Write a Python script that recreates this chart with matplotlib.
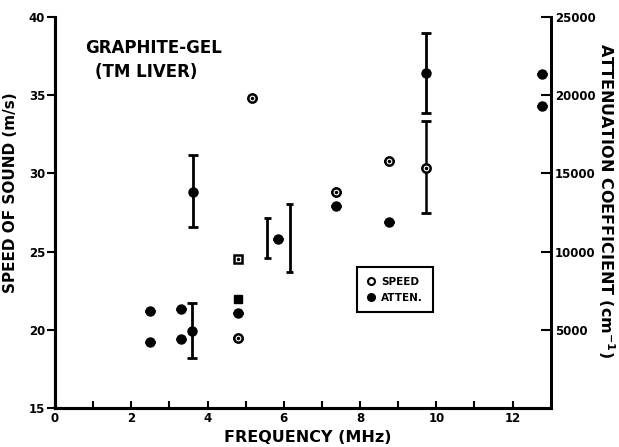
import numpy as np
import matplotlib
matplotlib.use("Agg")
import matplotlib.pyplot as plt

# speed of sound (left axis, m/s) - open markers with a centre dot
speed_freq = [4.81, 5.17, 7.37, 8.76, 9.72]
speed_val = [19.5, 34.8, 28.8, 30.8, 30.35]
speed_err_lo = [0, 0, 0, 0, 2.85]
speed_err_hi = [0, 0, 0, 0, 3.0]
speed_sq_freq = [4.81]
speed_sq_val = [24.5]

# attenuation (right axis, cm^-1) - filled markers
atten_freq = [2.49, 2.49, 3.30, 3.30, 3.59, 3.62, 4.81, 5.86, 7.37, 8.76, 9.72, 12.76, 12.76]
atten_val = [6200, 4200, 6330, 4400, 4950, 13800, 6100, 10790, 12940, 11870, 21400, 21340, 19330]
atten_err_lo = [0, 0, 0, 0, 1750, 2200, 0, 0, 0, 0, 2520, 0, 0]
atten_err_hi = [0, 0, 0, 0, 1750, 2400, 0, 0, 0, 0, 2580, 0, 0]
atten_sq_freq = [4.81]
atten_sq_val = [7000]

# error bars whose markers are lost in the original (left axis units)
bare_freq = [5.57, 6.15]
bare_lo = [24.6, 23.7]
bare_hi = [27.15, 28.05]

plt.rcParams['font.family'] = 'DejaVu Sans'
plt.rcParams['font.weight'] = 'bold'

fig = plt.figure(figsize=(6.19, 4.47), dpi=100)
ax = fig.add_axes([0.0889, 0.0872, 0.8008, 0.8748])
ax2 = ax.twinx()

ax.set_xlim(0, 13)
ax.set_ylim(15, 40)
ax2.set_ylim(0, 25000)

for a in (ax, ax2):
    a.spines['top'].set_visible(False)
    a.spines['left'].set_linewidth(2.2)
    a.spines['bottom'].set_linewidth(2.2)
    a.spines['right'].set_linewidth(2.0)

ax.set_xticks(np.arange(0, 14, 1), minor=True)
ax.set_xticks(np.arange(0, 13, 2))
ax.set_xticklabels([str(v) for v in range(0, 13, 2)], fontsize=8.5, fontweight='bold')
ax.tick_params(axis='x', which='both', direction='in', length=5, width=1.5, pad=3)
ax.set_yticks(np.arange(15, 41, 5))
ax.set_yticklabels([str(v) for v in range(15, 41, 5)], fontsize=8.5, fontweight='bold')
ax.tick_params(axis='y', direction='out', length=6, width=1.5, pad=1)

ax2.set_yticks(np.arange(5000, 25001, 5000))
ax2.set_yticklabels([str(v) for v in range(5000, 25001, 5000)], fontsize=8.5, fontweight='bold')
ax2.tick_params(axis='y', direction='in', length=7, width=1.5, pad=3)

# bare error bars
ax.vlines(bare_freq, bare_lo, bare_hi, color='black', lw=2)
ax.hlines(bare_lo + bare_hi, [f - 0.1 for f in bare_freq] * 2, [f + 0.1 for f in bare_freq] * 2,
          color='black', lw=2)

# attenuation
ax2.errorbar(atten_freq, atten_val, yerr=[atten_err_lo, atten_err_hi], fmt='none',
             ecolor='black', elinewidth=2, capsize=3.5, capthick=2)
ax2.plot(atten_freq, atten_val, 'o', color='black', ms=6.5, ls='none')
ax2.plot(atten_sq_freq, atten_sq_val, 's', color='black', ms=6, ls='none')

# speed
ax.errorbar(speed_freq, speed_val, yerr=[speed_err_lo, speed_err_hi], fmt='none',
            ecolor='black', elinewidth=1.8, capsize=3.5, capthick=2)
ax.plot(speed_freq, speed_val, 'o', mfc='white', mec='black', mew=1.8, ms=6, ls='none')
ax.plot(speed_sq_freq, speed_sq_val, 's', mfc='white', mec='black', mew=1.8, ms=6, ls='none')
ax.plot(speed_freq + speed_sq_freq, speed_val + speed_sq_val, 'o', color='black', ms=1.5, ls='none')

ax.text(0.79, 38.0, 'GRAPHITE-GEL', fontsize=12, fontweight='bold', ha='left', va='center')
ax.text(1.05, 36.5, '(TM LIVER)', fontsize=12, fontweight='bold', ha='left', va='center')

ax.set_xlabel('FREQUENCY (MHz)', fontsize=11.5, fontweight='bold')
ax.xaxis.set_label_coords(0.51, -0.055)
ax.set_ylabel('SPEED OF SOUND (m/s)', fontsize=11, fontweight='bold')
ax.yaxis.set_label_coords(-0.075, 0.55)
fig.text(606 / 619, 1 - 201 / 447, 'ATTENUATION COEFFICIENT (cm$^{-1}$)', fontsize=11.5,
         fontweight='bold', rotation=-90, ha='center', va='center')

# legend box
h1, = ax.plot([], [], 'o', mfc='white', mec='black', mew=1.5, ms=5)
h2, = ax.plot([], [], 'o', color='black', ms=5.5)
leg = ax.legend([h1, h2], ['SPEED', 'ATTEN.'], loc='upper left',
                bbox_to_anchor=(0.61, 0.36), fancybox=False, framealpha=1,
                edgecolor='black', handlelength=0.8, handletextpad=0.6,
                borderpad=0.9, labelspacing=0.6, borderaxespad=0,
                prop={'size': 7.5, 'weight': 'bold'})
leg.get_frame().set_linewidth(1.5)

fig.savefig('out.png', dpi=100)
